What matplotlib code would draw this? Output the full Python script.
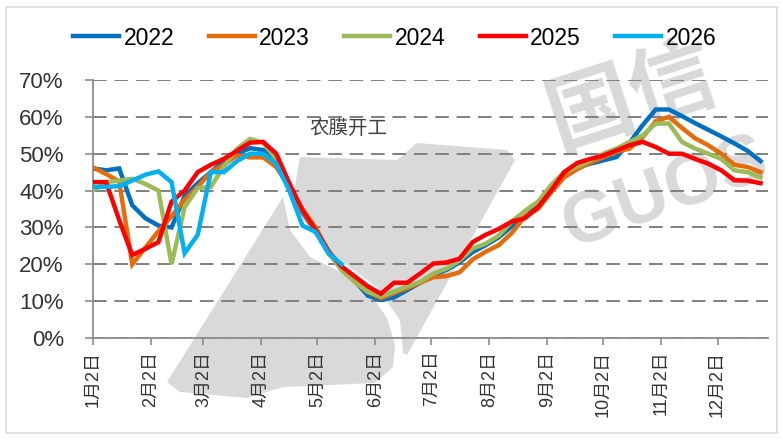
import datetime as dt
import matplotlib
matplotlib.use("Agg")
import matplotlib.pyplot as plt
from matplotlib.patches import Polygon, Rectangle

plt.rcParams['font.family'] = ['Liberation Sans', 'Noto Sans CJK SC', 'DejaVu Sans']

# weekly operating rate of agricultural film plants (%), week 0 = Jan 2
y2022 = [46, 45.5, 46, 36, 32.5, 30.5, 30, 38.5, 42, 45, 48, 50, 51.5, 51, 48, 41,
         34, 29, 23, 19, 15.5, 11.5, 10.3, 11, 13, 15, 17, 18.5, 20.5, 23.3, 25.2, 27.3,
         30.3, 32.8, 36, 40.8, 44.3, 46.3, 47.3, 48.2, 49.1, 53, 57.8, 62, 62, 60.2,
         58.3, 56.5, 54.7, 52.8, 50.8, 48]
y2023 = [46.3, 44.5, 42.5, 20, 24.5, 29, 33, 37.5, 41, 45, 47, 49.5, 49, 49, 46.4, 41,
         35, 30, 23.5, 18.5, 15.3, 12.5, 10.8, 12.2, 13.5, 15, 16.5, 16.8, 17.8, 21.3, 23.4, 25.2,
         28.5, 33, 35, 39.5, 43.6, 45.8, 47.6, 49, 50.5, 51.4, 54.5, 58.8, 60, 57,
         54.2, 52.3, 50, 47, 46.4, 45]
y2024 = [40, 42.3, 42.7, 43.2, 41.8, 40, 20, 35.5, 40.7, 41, 46.5, 51.3, 54, 53, 48.5, 41,
         34.5, 29, 23, 18.5, 15.3, 12.5, 11.3, 12.6, 14, 15.2, 17.5, 18.8, 21, 24.3, 25.6, 27.8,
         31.6, 34.5, 37, 41.5, 45, 46.5, 48.2, 50, 51.4, 53.2, 55, 58.2, 58.2, 53.2,
         51.4, 50, 48.6, 45.5, 45, 43.6]
y2025 = [42.3, 42.3, 32, 22.5, 24.2, 26, 37, 40, 45, 47, 48.6, 50.8, 53, 53.2, 50, 42,
         34.7, 29.3, 23.5, 19.4, 16.7, 14, 12, 15, 15, 17.5, 20.2, 20.5, 21.5, 26, 28, 29.6,
         31.6, 32.5, 35.5, 40, 45, 47.5, 48.6, 49.5, 50.9, 52.3, 53.2, 51.8, 50, 50,
         48.6, 47.3, 45.5, 42.8, 42.7, 42]
y2026 = [41, 41, 41.2, 42.7, 44.3, 45.2, 42.3, 23, 28, 45, 45, 48, 50, 50, 47.3, 40,
         30.5, 28.8, 23, 20]

series = [('2022', y2022, '#0070C0'),
          ('2023', y2023, '#E46C0A'),
          ('2024', y2024, '#9BBB59'),
          ('2025', y2025, '#FF0000'),
          ('2026', y2026, '#00B0F0')]

months = list(range(1, 13))
tick_labels = ['%d月2日' % m for m in months]
tick_days = [(dt.date(2022, m, 2) - dt.date(2022, 1, 2)).days for m in months]

W, H = 783, 440


def fp(x, y):
    # pixel (from top-left) -> figure fraction
    return (x / W, 1 - y / H)


fig = plt.figure(figsize=(W / 100, H / 100), dpi=100)

# watermark (logo + text), drawn behind the chart
wm = '#d9d9d9'
main_shape = [(300, 157), (397, 160), (417, 143), (507, 150), (515, 160), (407, 355),
              (403, 353), (400, 320), (377, 287), (340, 260), (310, 230), (293, 197)]
left_lobe = [(283, 197), (290, 230), (310, 257), (343, 273), (370, 293), (387, 318),
             (395, 345), (393, 367), (375, 383), (283, 387), (247, 398), (180, 392),
             (167, 382)]
for pts in (main_shape, left_lobe):
    fig.patches.append(Polygon([fp(*p) for p in pts], closed=True, facecolor=wm,
                               edgecolor='none', transform=fig.transFigure, zorder=-2))
fig.text(*fp(558, 148), '国信', fontsize=62, fontweight='bold', color=wm,
         family=['Noto Sans CJK SC'], rotation=18, rotation_mode='anchor',
         ha='left', va='baseline', zorder=-2)
fig.text(*fp(572, 248), 'GUOS', fontsize=52, fontweight='bold', color=wm,
         rotation=20, rotation_mode='anchor', ha='left', va='baseline', zorder=-2)

# outer frame
fig.patches.append(Rectangle(fp(6, 433), (W - 12) / W, 426 / H, fill=False,
                             edgecolor='#d9d9d9', lw=1.2, transform=fig.transFigure))

ax = fig.add_axes([93 / W, 1 - 338 / H, 675 / W, 258 / H])
ax.set_facecolor('none')

for name, vals, col in series:
    days = [7 * i for i in range(len(vals))]
    ax.plot(days, [v / 100 for v in vals], color=col, lw=3.2, label=name,
            solid_joinstyle='miter', zorder=3)

ax.set_xlim(0, 361)
ax.set_ylim(0, 0.7)
ax.set_yticks([i / 10 for i in range(8)])
ax.set_yticklabels(['%d%%' % (i * 10) for i in range(8)])
ax.set_xticks(tick_days)
ax.set_xticklabels(tick_labels, rotation=90)

ax.yaxis.grid(True, color='#808080', lw=1.4, linestyle=(0, (7, 4)))
ax.set_axisbelow(True)
for s in ['top', 'right']:
    ax.spines[s].set_visible(False)
for s in ['left', 'bottom']:
    ax.spines[s].set_color('#8c8c8c')
    ax.spines[s].set_linewidth(1.3)

ax.tick_params(axis='y', direction='out', length=6, width=1.2, color='#8c8c8c',
               labelsize=16, labelcolor='#333333', pad=15)
ax.tick_params(axis='x', direction='out', length=5, width=1.2, color='#8c8c8c',
               labelsize=13, labelcolor='#333333', pad=4)

ax.text(0.378, 0.814, '农膜开工', transform=ax.transAxes, ha='center', va='center',
        fontsize=14, color='#404040', family=['Noto Sans CJK SC'])

fig.legend(loc='center', bbox_to_anchor=fp(395, 38), ncol=5, frameon=False,
           fontsize=16.5, handlelength=2.0, handletextpad=0.2, columnspacing=1.5)

plt.savefig('out.png', dpi=100)
